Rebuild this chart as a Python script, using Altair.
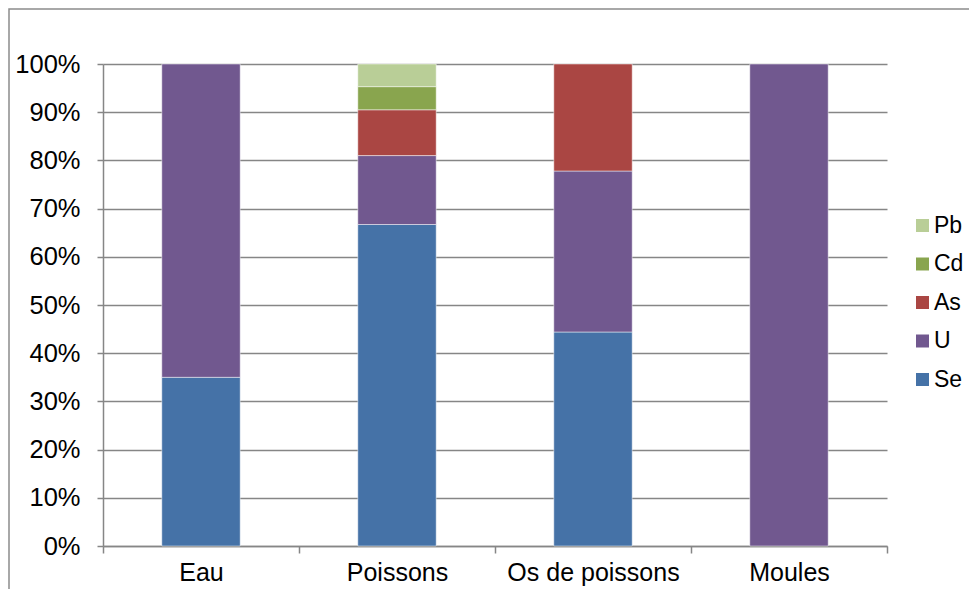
import altair as alt
import pandas as pd

categories = ["Eau", "Poissons", "Os de poissons", "Moules"]
series = ["Pb", "Cd", "As", "U", "Se"]
se = [35.0, 66.7, 44.4, 0.0]
u = [65.0, 14.3, 33.4, 100.0]
as_ = [0.0, 9.5, 22.2, 0.0]
cd = [0.0, 4.8, 0.0, 0.0]
pb = [0.0, 4.7, 0.0, 0.0]
colors = ["#B9CE97", "#89A54E", "#AA4643", "#71588F", "#4572A7"]

values = {"Se": se, "U": u, "As": as_, "Cd": cd, "Pb": pb}
stack_order = ["Se", "U", "As", "Cd", "Pb"]
rows = []
for s in stack_order:
    for c, v in zip(categories, values[s]):
        if v > 0:
            rows.append({"cat": c, "serie": s, "val": v, "ord": stack_order.index(s)})
df = pd.DataFrame(rows)

W, H = 784, 482
FONT = "Liberation Sans"
GRAY = "#868686"

bars = alt.Chart(df).mark_bar(
    width=alt.RelativeBandSize(0.4), stroke="white", strokeWidth=0.8, strokeOpacity=0.6
).encode(
    x=alt.X("cat:N", sort=categories, title=None,
            scale=alt.Scale(paddingInner=0, paddingOuter=0),
            axis=alt.Axis(tickBand="extent", labelAngle=0, domainColor=GRAY, tickColor=GRAY,
                          domainWidth=1.5, tickWidth=1.5, tickSize=7, labelPadding=7,
                          labelFontSize=25, labelFont=FONT, labelColor="black", grid=False)),
    y=alt.Y("val:Q", stack="normalize", title=None,
            scale=alt.Scale(domain=[0, 1]),
            axis=alt.Axis(format=".0%", values=[i / 10 for i in range(11)], domainColor=GRAY,
                          tickColor=GRAY, domainWidth=1.5, tickWidth=1.5, tickSize=6,
                          labelPadding=17, labelFontSize=25.5, labelFont=FONT, labelColor="black",
                          grid=True, gridColor=GRAY, gridWidth=1.5)),
    color=alt.Color("serie:N", scale=alt.Scale(domain=series, range=colors),
                    legend=alt.Legend(title=None, orient="none", legendX=W + 24, legendY=150,
                                      symbolType="square", symbolSize=169, symbolStrokeWidth=0,
                                      labelFontSize=23, labelFont=FONT, labelColor="black",
                                      labelOffset=0, rowPadding=14.5, padding=0)),
    order=alt.Order("ord:Q"),
)

border = alt.Chart(pd.DataFrame({"a": [0]})).mark_rect(
    fill=None, stroke="#8c8c8c", strokeWidth=1.5
).encode(
    x=alt.value(-94), x2=alt.value(W + 120), y=alt.value(-55), y2=alt.value(H + 100)
)

chart = alt.layer(border, bars).properties(
    width=W, height=H,
    autosize=alt.AutoSizeParams(type="none"),
    padding={"left": 95, "top": 56, "right": 82, "bottom": 43},
).configure_view(stroke=None)

chart.save("out.html", embed_options={"renderer": "svg", "actions": False})
